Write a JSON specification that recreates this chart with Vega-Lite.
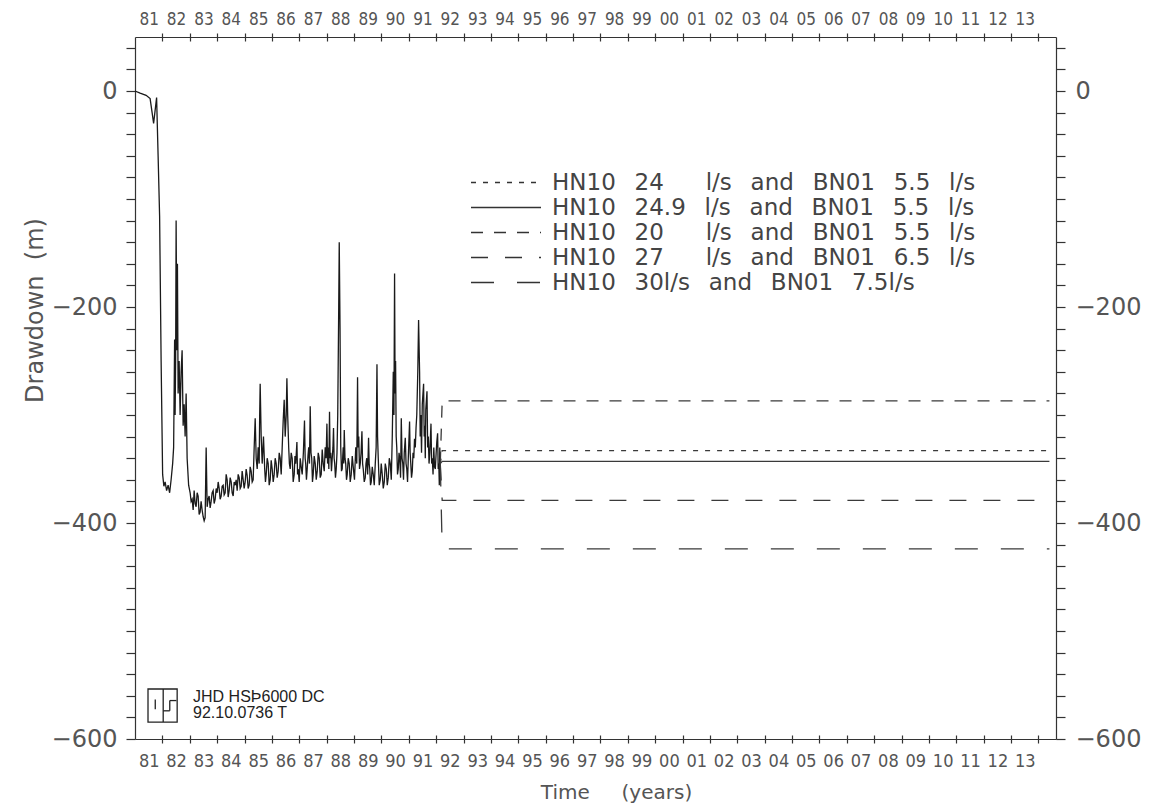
{
  "$schema": "https://vega.github.io/schema/vega-lite/v6.json",
  "width": 921,
  "height": 702,
  "autosize": {"type": "none"},
  "padding": {"left": 135, "top": 37, "right": 96, "bottom": 70},
  "background": "white",
  "config": {
    "view": {"stroke": null},
    "axis": {"grid": false, "domainColor": "#333", "tickColor": "#333", "domainWidth": 1.2, "tickWidth": 1.2, "labelFlush": false, "labelOverlap": false}
  },
  "datasets": {
    "history": [
      {"t":1981.0,"d":0},{"t":1981.186,"d":-2},{"t":1981.406,"d":-4},{"t":1981.552,"d":-7},{"t":1981.625,"d":-20},{"t":1981.68,"d":-30},{"t":1981.735,"d":-18},{"t":1981.789,"d":-6},{"t":1981.844,"d":-60},{"t":1981.899,"d":-116},{"t":1981.954,"d":-250},{"t":1982.009,"d":-355},{"t":1982.055,"d":-366},{"t":1982.1,"d":-362},{"t":1982.155,"d":-370},{"t":1982.21,"d":-365},{"t":1982.265,"d":-372},{"t":1982.319,"d":-360},{"t":1982.375,"d":-345},{"t":1982.411,"d":-330},{"t":1982.447,"d":-230},{"t":1982.465,"d":-300},{"t":1982.484,"d":-250},{"t":1982.502,"d":-120},{"t":1982.528,"d":-240},{"t":1982.55,"d":-160},{"t":1982.575,"d":-280},{"t":1982.612,"d":-250},{"t":1982.648,"d":-300},{"t":1982.685,"d":-260},{"t":1982.721,"d":-240},{"t":1982.758,"d":-310},{"t":1982.795,"d":-290},{"t":1982.831,"d":-320},{"t":1982.868,"d":-280},{"t":1982.904,"d":-340},{"t":1982.959,"d":-365},
      {"t":1983.014,"d":-372},{"t":1983.05,"d":-380},{"t":1983.087,"d":-378},{"t":1983.124,"d":-388},{"t":1983.16,"d":-370},{"t":1983.197,"d":-382},{"t":1983.233,"d":-385},{"t":1983.27,"d":-372},{"t":1983.306,"d":-375},{"t":1983.343,"d":-392},{"t":1983.379,"d":-390},{"t":1983.415,"d":-380},{"t":1983.452,"d":-388},{"t":1983.489,"d":-394},{"t":1983.526,"d":-398},{"t":1983.562,"d":-395},{"t":1983.599,"d":-330},{"t":1983.635,"d":-385},{"t":1983.672,"d":-378},{"t":1983.708,"d":-375},{"t":1983.745,"d":-386},{"t":1983.781,"d":-380},{"t":1983.818,"d":-372},{"t":1983.855,"d":-370},{"t":1983.891,"d":-382},{"t":1983.928,"d":-378},{"t":1983.965,"d":-368},
      {"t":1984.001,"d":-372},{"t":1984.038,"d":-362},{"t":1984.074,"d":-368},{"t":1984.11,"d":-378},{"t":1984.147,"d":-375},{"t":1984.183,"d":-366},{"t":1984.22,"d":-365},{"t":1984.256,"d":-374},{"t":1984.293,"d":-372},{"t":1984.33,"d":-355},{"t":1984.366,"d":-360},{"t":1984.403,"d":-376},{"t":1984.439,"d":-370},{"t":1984.476,"d":-358},{"t":1984.513,"d":-362},{"t":1984.549,"d":-372},{"t":1984.586,"d":-375},{"t":1984.622,"d":-362},{"t":1984.659,"d":-365},{"t":1984.695,"d":-360},{"t":1984.732,"d":-370},{"t":1984.768,"d":-355},{"t":1984.805,"d":-358},{"t":1984.841,"d":-368},{"t":1984.878,"d":-366},{"t":1984.914,"d":-352},{"t":1984.951,"d":-360},{"t":1984.987,"d":-368},
      {"t":1985.024,"d":-362},{"t":1985.06,"d":-350},{"t":1985.097,"d":-356},{"t":1985.133,"d":-368},{"t":1985.17,"d":-365},{"t":1985.206,"d":-348},{"t":1985.243,"d":-352},{"t":1985.28,"d":-362},{"t":1985.316,"d":-360},{"t":1985.353,"d":-330},{"t":1985.39,"d":-303},{"t":1985.426,"d":-340},{"t":1985.463,"d":-350},{"t":1985.499,"d":-330},{"t":1985.536,"d":-345},{"t":1985.554,"d":-300},{"t":1985.572,"d":-271},{"t":1985.609,"d":-320},{"t":1985.646,"d":-345},{"t":1985.693,"d":-320},{"t":1985.737,"d":-350},{"t":1985.765,"d":-362},{"t":1985.792,"d":-355},{"t":1985.828,"d":-340},{"t":1985.865,"d":-345},{"t":1985.901,"d":-365},{"t":1985.938,"d":-360},{"t":1985.974,"d":-342},
      {"t":1986.011,"d":-350},{"t":1986.048,"d":-362},{"t":1986.084,"d":-355},{"t":1986.12,"d":-340},{"t":1986.157,"d":-345},{"t":1986.193,"d":-358},{"t":1986.23,"d":-352},{"t":1986.267,"d":-335},{"t":1986.303,"d":-340},{"t":1986.34,"d":-355},{"t":1986.376,"d":-330},{"t":1986.413,"d":-305},{"t":1986.449,"d":-286},{"t":1986.486,"d":-320},{"t":1986.523,"d":-300},{"t":1986.548,"d":-266},{"t":1986.577,"d":-300},{"t":1986.614,"d":-330},{"t":1986.64,"d":-345},{"t":1986.669,"d":-350},{"t":1986.705,"d":-335},{"t":1986.742,"d":-340},{"t":1986.778,"d":-362},{"t":1986.815,"d":-355},{"t":1986.843,"d":-338},{"t":1986.87,"d":-345},{"t":1986.914,"d":-325},{"t":1986.937,"d":-355},{"t":1986.961,"d":-350},{"t":1986.998,"d":-362},
      {"t":1987.034,"d":-340},{"t":1987.07,"d":-348},{"t":1987.107,"d":-355},{"t":1987.15,"d":-335},{"t":1987.191,"d":-305},{"t":1987.215,"d":-340},{"t":1987.235,"d":-345},{"t":1987.262,"d":-360},{"t":1987.29,"d":-350},{"t":1987.318,"d":-338},{"t":1987.345,"d":-330},{"t":1987.373,"d":-345},{"t":1987.4,"d":-292},{"t":1987.428,"d":-335},{"t":1987.455,"d":-340},{"t":1987.482,"d":-362},{"t":1987.509,"d":-355},{"t":1987.546,"d":-338},{"t":1987.583,"d":-345},{"t":1987.62,"d":-360},{"t":1987.656,"d":-352},{"t":1987.692,"d":-335},{"t":1987.729,"d":-340},{"t":1987.765,"d":-358},{"t":1987.802,"d":-355},{"t":1987.838,"d":-332},{"t":1987.875,"d":-345},{"t":1987.912,"d":-352},{"t":1987.948,"d":-330},{"t":1987.98,"d":-340},
      {"t":1988.01,"d":-308},{"t":1988.034,"d":-345},{"t":1988.058,"d":-330},{"t":1988.08,"d":-350},{"t":1988.105,"d":-297},{"t":1988.127,"d":-340},{"t":1988.149,"d":-335},{"t":1988.176,"d":-352},{"t":1988.204,"d":-340},{"t":1988.23,"d":-330},{"t":1988.251,"d":-312},{"t":1988.273,"d":-340},{"t":1988.295,"d":-345},{"t":1988.322,"d":-358},{"t":1988.35,"d":-350},{"t":1988.378,"d":-335},{"t":1988.405,"d":-300},{"t":1988.441,"d":-200},{"t":1988.46,"d":-140},{"t":1988.489,"d":-220},{"t":1988.515,"d":-330},{"t":1988.542,"d":-352},{"t":1988.569,"d":-350},{"t":1988.588,"d":-338},{"t":1988.606,"d":-330},{"t":1988.625,"d":-345},{"t":1988.643,"d":-314},{"t":1988.67,"d":-340},{"t":1988.697,"d":-345},{"t":1988.725,"d":-360},{"t":1988.752,"d":-355},{"t":1988.788,"d":-340},{"t":1988.825,"d":-345},{"t":1988.861,"d":-362},{"t":1988.898,"d":-355},{"t":1988.935,"d":-338},{"t":1988.971,"d":-348},
      {"t":1989.017,"d":-360},{"t":1989.063,"d":-330},{"t":1989.1,"d":-345},{"t":1989.129,"d":-265},{"t":1989.15,"d":-330},{"t":1989.173,"d":-320},{"t":1989.2,"d":-350},{"t":1989.227,"d":-345},{"t":1989.258,"d":-335},{"t":1989.289,"d":-315},{"t":1989.313,"d":-345},{"t":1989.337,"d":-350},{"t":1989.373,"d":-362},{"t":1989.41,"d":-358},{"t":1989.437,"d":-345},{"t":1989.465,"d":-340},{"t":1989.498,"d":-355},{"t":1989.531,"d":-321},{"t":1989.553,"d":-345},{"t":1989.575,"d":-350},{"t":1989.602,"d":-365},{"t":1989.629,"d":-362},{"t":1989.665,"d":-348},{"t":1989.702,"d":-355},{"t":1989.739,"d":-365},{"t":1989.776,"d":-345},{"t":1989.808,"d":-330},{"t":1989.838,"d":-253},{"t":1989.86,"d":-320},{"t":1989.885,"d":-340},{"t":1989.921,"d":-365},{"t":1989.958,"d":-360},{"t":1989.994,"d":-345},
      {"t":1990.031,"d":-355},{"t":1990.068,"d":-368},{"t":1990.105,"d":-362},{"t":1990.141,"d":-345},{"t":1990.178,"d":-350},{"t":1990.214,"d":-365},{"t":1990.251,"d":-358},{"t":1990.288,"d":-340},{"t":1990.324,"d":-345},{"t":1990.361,"d":-360},{"t":1990.397,"d":-320},{"t":1990.434,"d":-260},{"t":1990.458,"d":-300},{"t":1990.481,"d":-169},{"t":1990.5,"d":-280},{"t":1990.518,"d":-250},{"t":1990.54,"d":-320},{"t":1990.561,"d":-330},{"t":1990.588,"d":-355},{"t":1990.616,"d":-350},{"t":1990.644,"d":-335},{"t":1990.671,"d":-340},{"t":1990.7,"d":-358},{"t":1990.726,"d":-303},{"t":1990.754,"d":-340},{"t":1990.781,"d":-345},{"t":1990.808,"d":-360},{"t":1990.835,"d":-335},{"t":1990.872,"d":-321},{"t":1990.9,"d":-345},{"t":1990.927,"d":-350},{"t":1990.955,"d":-362},{"t":1990.982,"d":-340},
      {"t":1991.029,"d":-306},{"t":1991.05,"d":-335},{"t":1991.073,"d":-345},{"t":1991.1,"d":-358},{"t":1991.128,"d":-352},{"t":1991.155,"d":-335},{"t":1991.183,"d":-340},{"t":1991.21,"d":-322},{"t":1991.238,"d":-330},{"t":1991.265,"d":-312},{"t":1991.292,"d":-300},{"t":1991.329,"d":-260},{"t":1991.358,"d":-212},{"t":1991.395,"d":-260},{"t":1991.417,"d":-320},{"t":1991.439,"d":-300},{"t":1991.466,"d":-335},{"t":1991.493,"d":-290},{"t":1991.541,"d":-271},{"t":1991.563,"d":-320},{"t":1991.585,"d":-310},{"t":1991.603,"d":-340},{"t":1991.621,"d":-295},{"t":1991.665,"d":-278},{"t":1991.69,"d":-330},{"t":1991.713,"d":-320},{"t":1991.74,"d":-345},{"t":1991.768,"d":-335},{"t":1991.811,"d":-308},{"t":1991.835,"d":-345},{"t":1991.859,"d":-340},{"t":1991.886,"d":-355},{"t":1991.914,"d":-330},{"t":1991.94,"d":-348},{"t":1991.969,"d":-350},{"t":1992.0,"d":-335},{"t":1992.023,"d":-325},{"t":1992.053,"d":-317},{"t":1992.075,"d":-350},{"t":1992.096,"d":-345},{"t":1992.115,"d":-365},{"t":1992.132,"d":-330},{"t":1992.15,"d":-345}
    ],
    "scenarios": [
      {"s":"HN10 24 l/s and BN01 5.5 l/s","t":1992.15,"d":-345},
      {"s":"HN10 24 l/s and BN01 5.5 l/s","t":1992.22,"d":-333},
      {"s":"HN10 24 l/s and BN01 5.5 l/s","t":2014.4,"d":-333},
      {"s":"HN10 24.9 l/s and BN01 5.5 l/s","t":1992.15,"d":-345},
      {"s":"HN10 24.9 l/s and BN01 5.5 l/s","t":1992.22,"d":-343},
      {"s":"HN10 24.9 l/s and BN01 5.5 l/s","t":2014.4,"d":-343},
      {"s":"HN10 20 l/s and BN01 5.5 l/s","t":1992.15,"d":-345},
      {"s":"HN10 20 l/s and BN01 5.5 l/s","t":1992.22,"d":-287},
      {"s":"HN10 20 l/s and BN01 5.5 l/s","t":2014.4,"d":-287},
      {"s":"HN10 27 l/s and BN01 6.5 l/s","t":1992.15,"d":-345},
      {"s":"HN10 27 l/s and BN01 6.5 l/s","t":1992.22,"d":-379},
      {"s":"HN10 27 l/s and BN01 6.5 l/s","t":2014.4,"d":-379},
      {"s":"HN10 30l/s and BN01 7.5l/s","t":1992.15,"d":-345},
      {"s":"HN10 30l/s and BN01 7.5l/s","t":1992.22,"d":-424},
      {"s":"HN10 30l/s and BN01 7.5l/s","t":2014.4,"d":-424}
    ],
    "logo": [{"line1": "JHD HSÞ6000 DC", "line2": "92.10.0736 T"}]
  },
  "resolve": {"axis": {"x": "independent", "y": "independent"}},
  "layer": [
    {
      "data": {"name": "history"},
      "mark": {"type": "line", "stroke": "#1a1a1a", "strokeWidth": 1.3},
      "encoding": {
        "x": {"field": "t", "type": "quantitative", "scale": {"domain": [1981, 2014.64], "nice": false, "zero": false},
          "axis": {"orient": "bottom", "values": [1981.5,1982.5,1983.5,1984.5,1985.5,1986.5,1987.5,1988.5,1989.5,1990.5,1991.5,1992.5,1993.5,1994.5,1995.5,1996.5,1997.5,1998.5,1999.5,2000.5,2001.5,2002.5,2003.5,2004.5,2005.5,2006.5,2007.5,2008.5,2009.5,2010.5,2011.5,2012.5,2013.5],
            "ticks": false, "tickSize": 0, "labelExpr": "slice(toString(floor(datum.value)), 2)",
            "labelFont": "Liberation Sans Narrow, DejaVu Sans Condensed, sans-serif", "labelFontSize": 18, "labelColor": "#555", "labelPadding": 13,
            "title": "Time\u00a0\u00a0\u00a0\u00a0\u00a0(years)", "titleFont": "DejaVu Sans", "titleFontSize": 20, "titleFontWeight": "normal", "titleColor": "#555", "titlePadding": 12, "titleX": 481}},
        "y": {"field": "d", "type": "quantitative", "scale": {"domain": [-600, 50], "nice": false, "zero": false},
          "axis": {"orient": "left", "values": [-600,-580,-560,-540,-520,-500,-480,-460,-440,-420,-400,-380,-360,-340,-320,-300,-280,-260,-240,-220,-200,-180,-160,-140,-120,-100,-80,-60,-40,-20,0,20,40],
            "labelExpr": "datum.value % 200 == 0 ? datum.label : ''", "tickSize": 9, "labelPadding": 9,
            "labelFont": "DejaVu Sans", "labelFontSize": 24, "labelColor": "#555",
            "title": "Drawdown\u00a0\u00a0(m)", "titleFont": "DejaVu Sans", "titleFontSize": 24, "titleFontWeight": "normal", "titleColor": "#555", "titlePadding": 4, "titleY": 273}}
      }
    },
    {
      "data": {"name": "scenarios"},
      "mark": {"type": "line", "stroke": "#3a3a3a", "strokeWidth": 1.3},
      "encoding": {
        "x": {"field": "t", "type": "quantitative", "scale": {"domain": [1981, 2014.64], "nice": false, "zero": false},
          "axis": {"orient": "top", "values": [1981.5,1982.5,1983.5,1984.5,1985.5,1986.5,1987.5,1988.5,1989.5,1990.5,1991.5,1992.5,1993.5,1994.5,1995.5,1996.5,1997.5,1998.5,1999.5,2000.5,2001.5,2002.5,2003.5,2004.5,2005.5,2006.5,2007.5,2008.5,2009.5,2010.5,2011.5,2012.5,2013.5],
            "ticks": false, "tickSize": 0, "labelExpr": "slice(toString(floor(datum.value)), 2)",
            "labelFont": "Liberation Sans Narrow, DejaVu Sans Condensed, sans-serif", "labelFontSize": 17, "labelColor": "#555", "labelPadding": 9, "title": null}},
        "y": {"field": "d", "type": "quantitative", "scale": {"domain": [-600, 50], "nice": false, "zero": false},
          "axis": {"orient": "right", "values": [-600,-580,-560,-540,-520,-500,-480,-460,-440,-420,-400,-380,-360,-340,-320,-300,-280,-260,-240,-220,-200,-180,-160,-140,-120,-100,-80,-60,-40,-20,0,20,40],
            "labelExpr": "datum.value % 200 == 0 ? datum.label : ''", "tickSize": 9, "labelPadding": 10,
            "labelFont": "DejaVu Sans", "labelFontSize": 24, "labelColor": "#555", "title": null}},
        "strokeDash": {"field": "s", "type": "nominal",
          "scale": {"domain": ["HN10 24 l/s and BN01 5.5 l/s", "HN10 24.9 l/s and BN01 5.5 l/s", "HN10 20 l/s and BN01 5.5 l/s", "HN10 27 l/s and BN01 6.5 l/s", "HN10 30l/s and BN01 7.5l/s"],
            "range": [[5, 7], [1, 0], [12, 11], [17, 17], [23, 23]]},
          "legend": {"orient": "none", "legendX": 335, "legendY": 134, "title": null, "padding": 0,
            "symbolType": "stroke", "symbolSize": 4900, "symbolStrokeWidth": 1.3, "symbolStrokeColor": "#333",
            "labelFont": "DejaVu Sans", "labelFontSize": 23, "labelColor": "#444", "labelOffset": 10, "labelLimit": 700,
            "clipHeight": 23, "rowPadding": 1,
            "labelExpr": "replace(replace(datum.label, regexp('^(HN10 [0-9][0-9]) '), '$1\u2002\u2002 '), regexp(' ', 'g'), '\u2002\u00a0')"}}
      }
    },
    {
      "data": {"name": "history"},
      "mark": {"type": "point", "opacity": 0},
      "encoding": {
        "x": {"field": "t", "type": "quantitative", "scale": {"domain": [1981, 2014.64], "nice": false, "zero": false},
          "axis": {"orient": "bottom", "values": [1982,1983,1984,1985,1986,1987,1988,1989,1990,1991,1992,1993,1994,1995,1996,1997,1998,1999,2000,2001,2002,2003,2004,2005,2006,2007,2008,2009,2010,2011,2012,2013,2014],
            "labels": false, "domain": false, "tickSize": 8, "offset": -4, "title": null}},
        "y": {"field": "d", "type": "quantitative", "scale": {"domain": [-600, 50], "nice": false, "zero": false}, "axis": null}
      }
    },
    {
      "data": {"name": "history"},
      "mark": {"type": "point", "opacity": 0},
      "encoding": {
        "x": {"field": "t", "type": "quantitative", "scale": {"domain": [1981, 2014.64], "nice": false, "zero": false},
          "axis": {"orient": "top", "values": [1982,1983,1984,1985,1986,1987,1988,1989,1990,1991,1992,1993,1994,1995,1996,1997,1998,1999,2000,2001,2002,2003,2004,2005,2006,2007,2008,2009,2010,2011,2012,2013,2014],
            "labels": false, "domain": false, "tickSize": 8, "offset": -4, "title": null}},
        "y": {"field": "d", "type": "quantitative", "scale": {"domain": [-600, 50], "nice": false, "zero": false}, "axis": null}
      }
    },
    {
      "data": {"name": "logo"},
      "mark": {"type": "rect", "fillOpacity": 0, "stroke": "#222", "strokeWidth": 1.3},
      "encoding": {
        "x": {"datum": 1981.475, "type": "quantitative", "axis": null},
        "x2": {"datum": 1982.54},
        "y": {"datum": -553.7, "type": "quantitative", "axis": null},
        "y2": {"datum": -584.3}
      }
    },
    {
      "data": {"name": "logo"},
      "mark": {"type": "rule", "stroke": "#222", "strokeWidth": 1.3},
      "encoding": {
        "x": {"datum": 1982.03, "type": "quantitative", "axis": null},
        "y": {"datum": -553.7, "type": "quantitative", "axis": null},
        "y2": {"datum": -584.3}
      }
    },
    {
      "data": {"name": "logo"},
      "mark": {"type": "rule", "stroke": "#222", "strokeWidth": 1.3},
      "encoding": {
        "x": {"datum": 1981.74, "type": "quantitative", "axis": null},
        "y": {"datum": -563.5, "type": "quantitative", "axis": null},
        "y2": {"datum": -572.4}
      }
    },
    {
      "data": {"name": "logo"},
      "mark": {"type": "rule", "stroke": "#222", "strokeWidth": 1.3},
      "encoding": {
        "x": {"datum": 1982.27, "type": "quantitative", "axis": null},
        "x2": {"datum": 1982.514},
        "y": {"datum": -564.4, "type": "quantitative", "axis": null}
      }
    },
    {
      "data": {"name": "logo"},
      "mark": {"type": "rule", "stroke": "#222", "strokeWidth": 1.3},
      "encoding": {
        "x": {"datum": 1982.27, "type": "quantitative", "axis": null},
        "y": {"datum": -564.4, "type": "quantitative", "axis": null},
        "y2": {"datum": -573.9}
      }
    },
    {
      "data": {"name": "logo"},
      "mark": {"type": "rule", "stroke": "#222", "strokeWidth": 1.3},
      "encoding": {
        "x": {"datum": 1982.03, "type": "quantitative", "axis": null},
        "x2": {"datum": 1982.27},
        "y": {"datum": -573.9, "type": "quantitative", "axis": null}
      }
    },
    {
      "data": {"name": "logo"},
      "mark": {"type": "text", "align": "left", "baseline": "middle", "font": "Liberation Sans, Arial, sans-serif", "fontSize": 16, "fill": "#222"},
      "encoding": {
        "x": {"datum": 1983.12, "type": "quantitative", "axis": null},
        "y": {"datum": -561.1, "type": "quantitative", "axis": null},
        "text": {"field": "line1"}
      }
    },
    {
      "data": {"name": "logo"},
      "mark": {"type": "text", "align": "left", "baseline": "middle", "font": "Liberation Sans, Arial, sans-serif", "fontSize": 16, "fill": "#222"},
      "encoding": {
        "x": {"datum": 1983.12, "type": "quantitative", "axis": null},
        "y": {"datum": -575.9, "type": "quantitative", "axis": null},
        "text": {"field": "line2"}
      }
    }
  ]
}
